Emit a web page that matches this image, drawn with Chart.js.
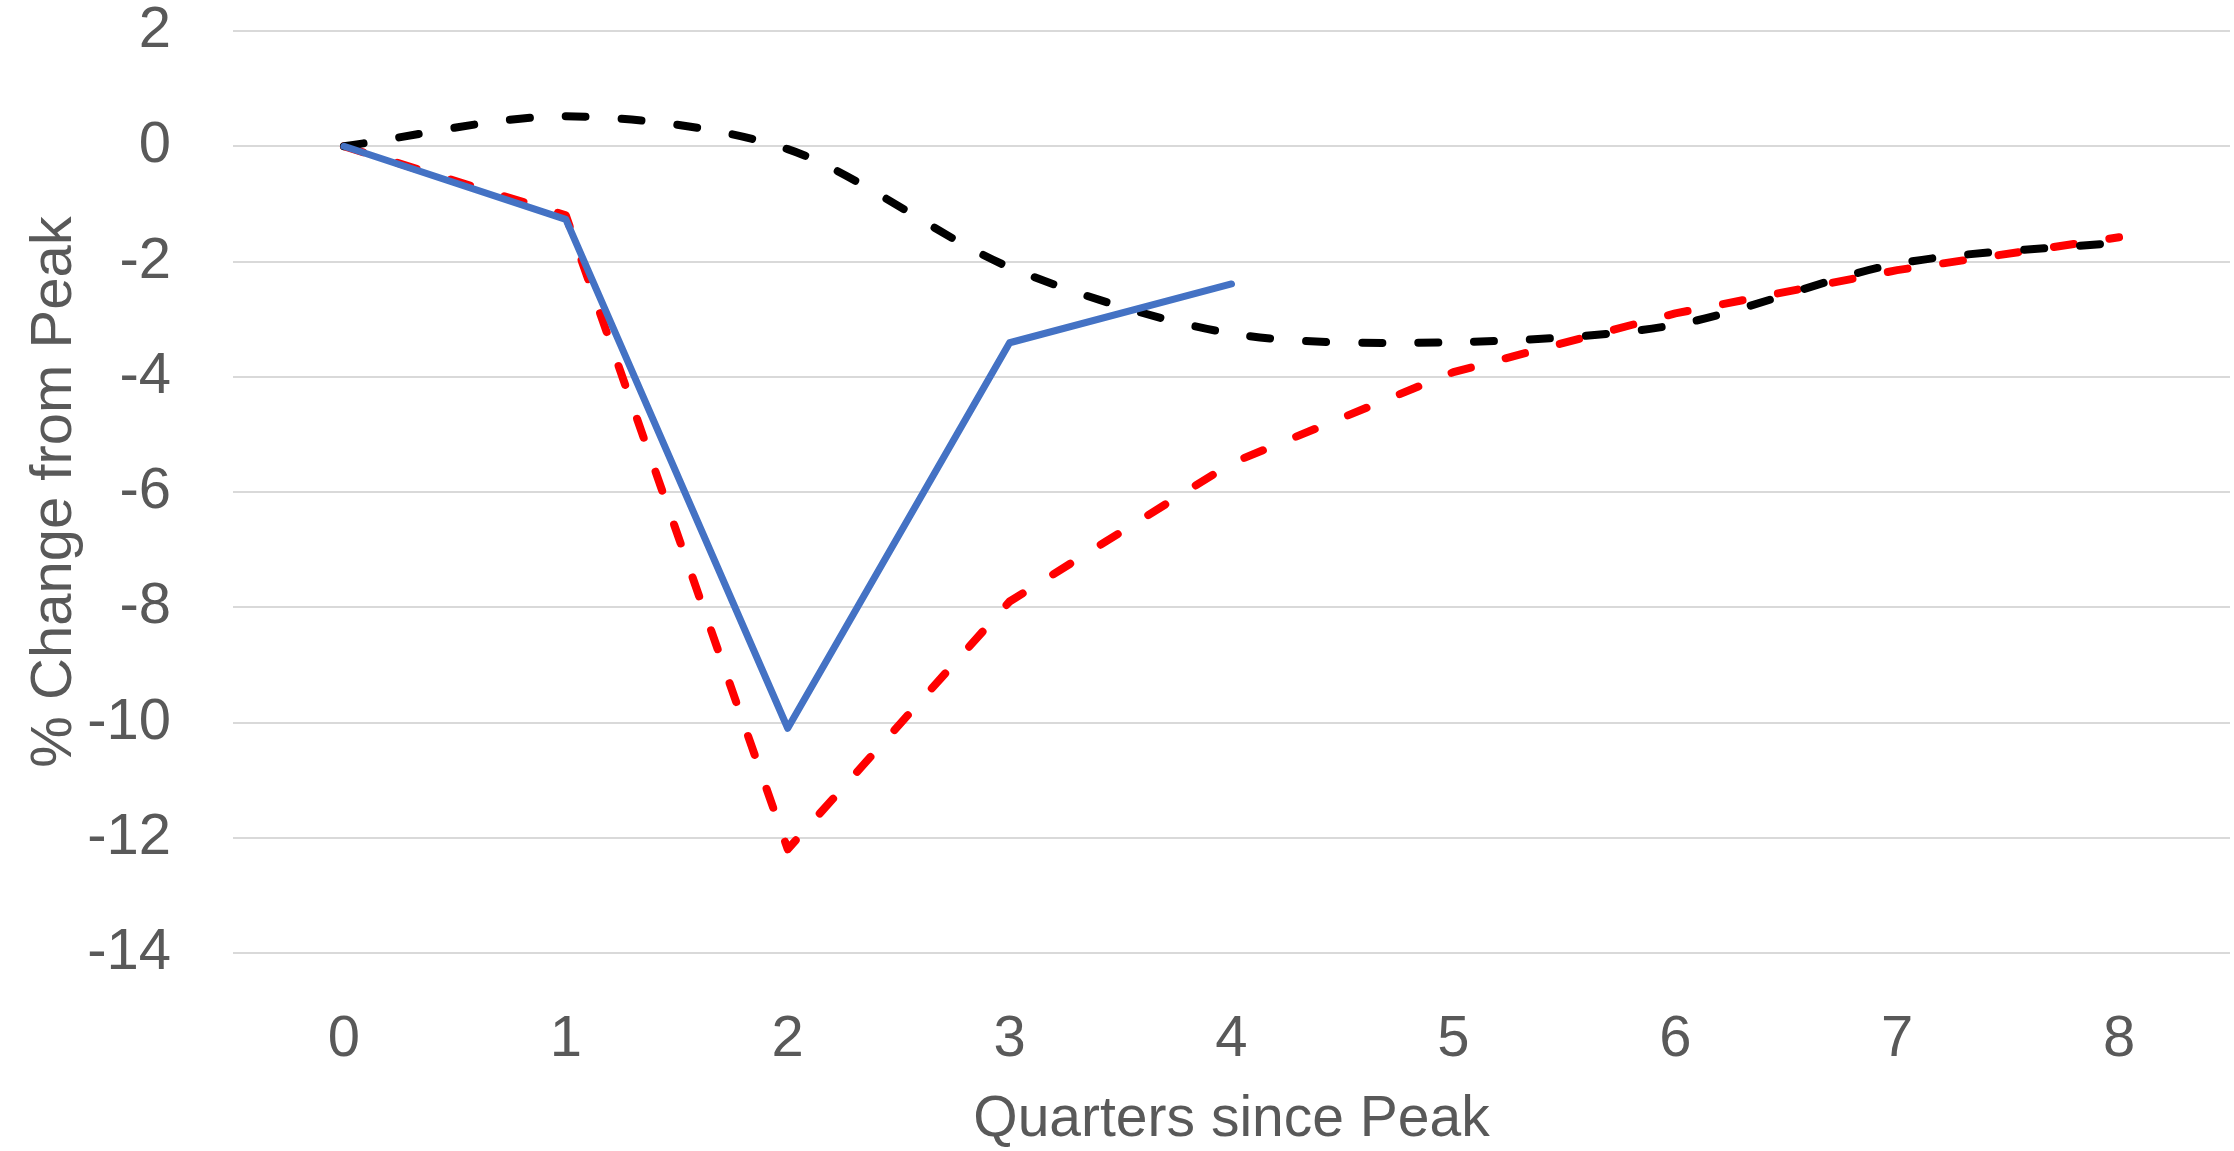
<!DOCTYPE html>
<html lang="en">
<head>
    <meta charset="UTF-8">
    <title>% Change from Peak</title>
    <script src="https://cdn.jsdelivr.net/npm/chart.js"></script>
    <style>
        body { margin: 0; background: #fff; }
        canvas { display: block; }
    </style>
</head>
<body>
    <canvas id="peakChart" width="2234" height="1151"></canvas>

    <script>
        // Quarters since peak (category axis)
        const quarters = ['0', '1', '2', '3', '4', '5', '6', '7', '8'];

        // Solid blue line (stops at quarter 4)
        const blueSeries = [0, -1.27, -10.1, -3.41, -2.39];
        // Red dashed line
        const redSeries = [0, -1.2, -12.2, -7.9, -5.5, -3.92, -2.9, -2.15, -1.58];
        // Black dashed (smoothed) line
        const blackSeries = [0, 0.52, -0.05, -2.1, -3.25, -3.4, -3.1, -2.04, -1.67];

        // y axis ticks
        const yMin = -14;
        const yMax = 2;
        const yStep = 2;

        const textColor = '#595959';
        const fontFamily = '"Liberation Sans", Arial, sans-serif';

        new Chart(document.getElementById('peakChart').getContext('2d'), {
            type: 'line',
            data: {
                labels: quarters,
                datasets: [{
                    label: 'Blue',
                    data: blueSeries,
                    borderColor: '#4472C4',
                    borderWidth: 7,
                    borderJoinStyle: 'round',
                    borderCapStyle: 'round',
                    pointRadius: 0,
                    tension: 0,
                    fill: false
                }, {
                    label: 'Black',
                    data: blackSeries,
                    borderColor: '#000000',
                    borderWidth: 8,
                    borderDash: [20, 36],
                    borderCapStyle: 'round',
                    borderJoinStyle: 'round',
                    pointRadius: 0,
                    tension: 0.3,
                    fill: false
                }, {
                    label: 'Red',
                    data: redSeries,
                    borderColor: '#FF0000',
                    borderWidth: 8,
                    borderDash: [20, 36],
                    borderCapStyle: 'round',
                    borderJoinStyle: 'round',
                    pointRadius: 0,
                    tension: 0,
                    fill: false
                }]
            },
            options: {
                responsive: false,
                animation: false,
                devicePixelRatio: 1,
                layout: { padding: { top: 31, right: 4, bottom: 0, left: 0 } },
                plugins: {
                    legend: { display: false },
                    tooltip: { enabled: false }
                },
                scales: {
                    x: {
                        offset: true,
                        grid: { display: false, drawTicks: false },
                        border: { display: false },
                        ticks: {
                            color: textColor,
                            padding: 52,
                            font: { family: fontFamily, size: 58 }
                        },
                        title: {
                            display: true,
                            text: 'Quarters since Peak',
                            color: textColor,
                            font: { family: fontFamily, size: 57, lineHeight: 1 },
                            padding: { top: 0, bottom: 2 }
                        },
                        afterFit: scale => {
                            scale.height = 198;
                            scale.paddingLeft = 0;
                            scale.paddingRight = 0;
                        }
                    },
                    y: {
                        min: yMin,
                        max: yMax,
                        grid: { color: '#D9D9D9', lineWidth: 2, drawTicks: false },
                        border: { display: false },
                        ticks: {
                            stepSize: yStep,
                            color: textColor,
                            padding: 62,
                            font: { family: fontFamily, size: 58 }
                        },
                        title: {
                            display: true,
                            text: '% Change from Peak',
                            color: textColor,
                            font: { family: fontFamily, size: 58 },
                            padding: { top: 20, bottom: 0 }
                        },
                        afterFit: scale => {
                            scale.width = 233;
                            scale.paddingTop = 0;
                            scale.paddingBottom = 0;
                        }
                    }
                }
            }
        });
    </script>
</body>
</html>
